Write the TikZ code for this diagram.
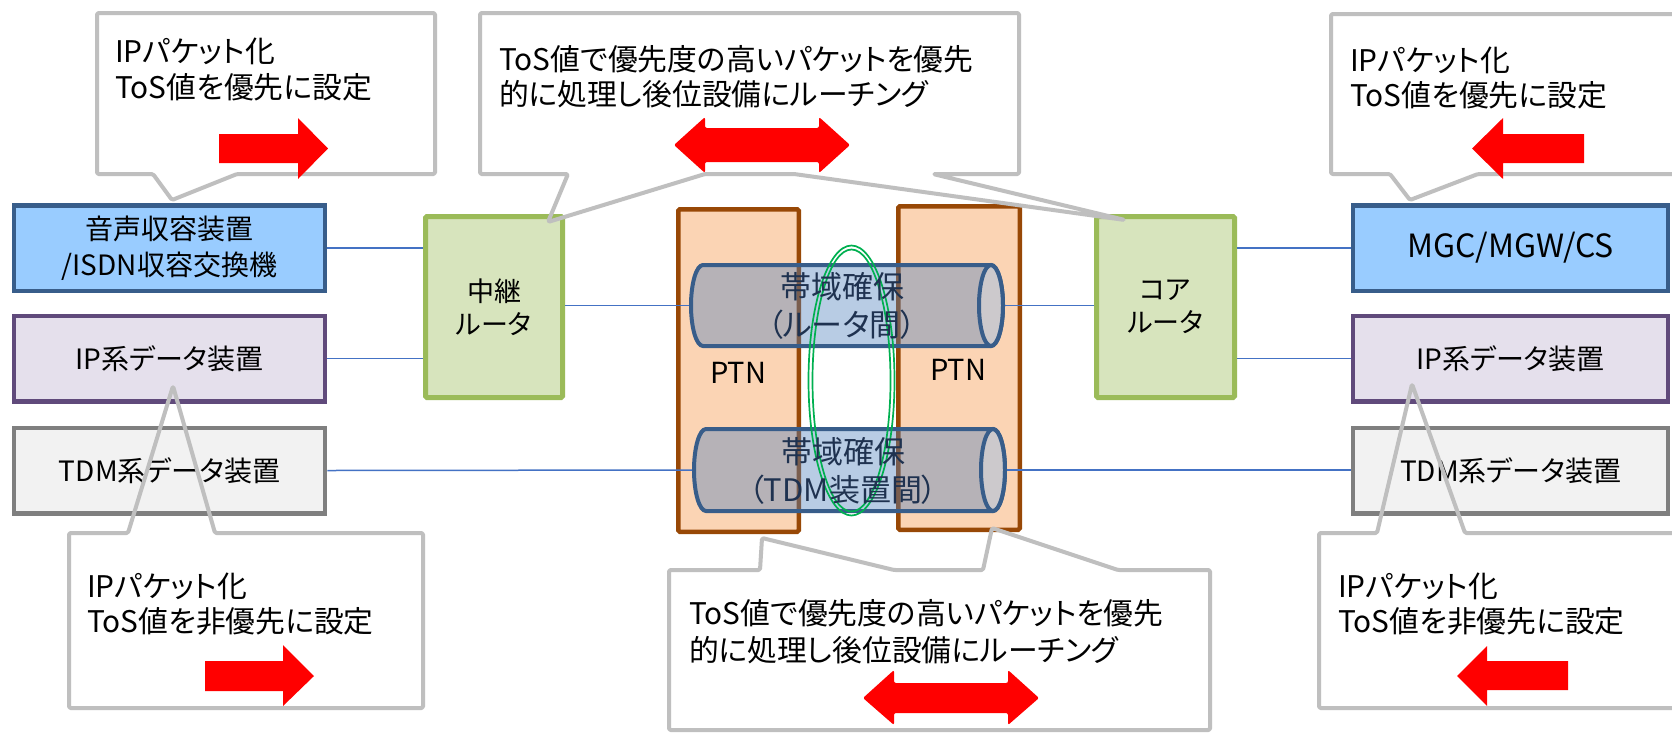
\documentclass[tikz,border=0pt]{standalone}
\usepackage{fontspec}
\setmainfont{Noto Sans CJK JP}[RawFeature=+palt]
\definecolor{vbfill}{RGB}{153,204,255}
\definecolor{vbdraw}{RGB}{56,93,138}
\definecolor{ipfill}{RGB}{229,224,236}
\definecolor{ipdraw}{RGB}{96,74,123}
\definecolor{tdmfill}{RGB}{242,242,242}
\definecolor{tdmdraw}{RGB}{127,127,127}
\definecolor{rtfill}{RGB}{215,228,189}
\definecolor{rtdraw}{RGB}{155,187,89}
\definecolor{ptnfill}{RGB}{251,212,180}
\definecolor{ptndraw}{RGB}{152,72,6}
\definecolor{cylfill}{RGB}{79,129,189}
\definecolor{cyltext}{RGB}{31,50,80}
\definecolor{ringgreen}{RGB}{0,176,80}
\definecolor{calgray}{RGB}{191,191,191}
\definecolor{arrowred}{RGB}{255,0,0}
\definecolor{lineblue}{RGB}{68,114,196}
\newcommand\mycalfont{\fontsize{29.8}{34}\selectfont}
\newcommand\myboxfont{\fontsize{28}{36}\selectfont}
\newcommand\myrtfont{\fontsize{27}{33}\selectfont}
\newcommand\mycylfont{\fontsize{31}{38.5}\selectfont}
\begin{document}
\begin{tikzpicture}[x=1pt,y=-1pt,
  devbox/.style={rectangle, line width=4.5pt, inner sep=0pt, minimum width=311pt, minimum height=85.5pt, align=center, font=\myboxfont, text=black},
  vbbox/.style={devbox, fill=vbfill, draw=vbdraw},
  ipbox/.style={devbox, fill=ipfill, draw=ipdraw},
  tdmbox/.style={devbox, fill=tdmfill, draw=tdmdraw},
  rtbox/.style={rectangle, line width=5pt, inner sep=0pt, minimum width=137pt, minimum height=181pt, fill=rtfill, draw=rtdraw, rounded corners=1.5pt, align=center, font=\myrtfont},
  ptnbox/.style={rectangle, line width=4.5pt, inner sep=0pt, minimum width=120.5pt, minimum height=322.5pt, fill=ptnfill, draw=ptndraw, rounded corners=1.5pt},
  ptnlabel/.style={inner sep=0pt, font=\fontsize{29}{30}\selectfont},
  cylbody/.style={draw=vbdraw, line width=4pt, fill=cylfill, fill opacity=0.4},
  cylend/.style={draw=vbdraw, line width=4pt, fill=white, fill opacity=0.3},
  cyllabel/.style={inner sep=0pt, align=center, text=cyltext, font=\mycylfont},
  ring/.style={draw=ringgreen, line width=1.7pt},
  conn/.style={draw=lineblue, line width=1.5pt},
  callout/.style={draw=calgray, line width=4pt, rounded corners=1.5pt, line join=round},
  caltext/.style={inner sep=0pt, anchor=base west, font=\mycalfont},
  redarrow/.style={fill=arrowred, draw=none},
  redarrow2/.style={fill=arrowred, draw=none, rounded corners=2pt}
]
\clip (0,0) rectangle (1672,732);
\fill[white] (0,0) rectangle (1672,732);

% ---- PTN boxes
\node[ptnbox] (ptnL) at (738.5,370.5) {};
\node[ptnbox, minimum width=121.5pt, minimum height=323.5pt] (ptnR) at (959,368) {};
\node[ptnlabel] (ptnLt) at (738,373) {PTN};
\node[ptnlabel] (ptnRt) at (958,370) {PTN};

% ---- cylinders
\draw[cylbody] (703,265) -- (991,265) arc[start angle=-90,end angle=90,x radius=12,y radius=40.5] -- (703,346) arc[start angle=90,end angle=270,x radius=12,y radius=40.5] -- cycle;
\draw[cylend] (991,305.5) ellipse[x radius=12, y radius=40.5];
\draw[cylbody] (706,429) -- (993,429) arc[start angle=-90,end angle=90,x radius=12,y radius=41] -- (706,511) arc[start angle=90,end angle=270,x radius=12,y radius=41] -- cycle;
\draw[cylend] (993,470) ellipse[x radius=12, y radius=41];
\coordinate (cylUa) at (689,305.5);
\coordinate (cylUb) at (1005,305.5);
\coordinate (cylDa) at (692,470);
\coordinate (cylDb) at (1007,470);

% ---- green ring
\draw[ring] (851.5,380.5) ellipse[x radius=43, y radius=135];
\draw[ring] (851.5,380.5) ellipse[x radius=39, y radius=131];

\node[cyllabel] (cylUt) at (842,306) {帯域確保\\（ルータ間）};
\node[cyllabel] (cylDt) at (843,471) {帯域確保\\（TDM装置間）};

% ---- device boxes
\node[vbbox] (vb) at (169.5,248) {音声収容装置\\/ISDN収容交換機};
\node[ipbox] (ipL) at (169.5,358.5) {IP系データ装置};
\node[tdmbox] (tdmL) at (169.5,470.5) {TDM系データ装置};
\node[vbbox, minimum width=315pt, font=\fontsize{32}{36}\selectfont] (mgc) at (1510.5,248) {MGC/MGW/CS};
\node[ipbox, minimum width=315pt] (ipR) at (1510.5,358.5) {IP系データ装置};
\node[tdmbox, minimum width=315pt] (tdmR) at (1510.5,470.5) {TDM系データ装置};

% ---- routers
\node[rtbox] (rtL) at (494,307) {中継\\ルータ};
\node[rtbox, minimum width=138pt] (rtR) at (1165.5,307) {コア\\ルータ};

% ---- connectors
\draw[conn] (vb.east) -- (vb.east -| rtL.west);
\draw[conn] (ipL.east) -- (ipL.east -| rtL.west);
\draw[conn] (rtL.east |- cylUa) -- (cylUa);
\draw[conn] (cylUb) -- (cylUb -| rtR.west);
\draw[conn] (tdmL.east) -- (cylDa);
\draw[conn] (cylDb) -- (cylDb -| tdmR.west);
\draw[conn] (rtR.east |- mgc.west) -- (mgc.west);
\draw[conn] (rtR.east |- ipR.west) -- (ipR.west);

% ---- callouts
% top left
\draw[callout] (97,13) -- (435,13) -- (435,174) -- (237,174) -- (172,200) -- (153,174) -- (97,174) -- cycle;
\node[caltext] (tl1) at (115,62) {IPパケット化};
\node[caltext] (tl2) at (115,98) {ToS値を優先に設定};
\fill[redarrow] (219,134) -- (298,134) -- (298,118) -- (328,148.5) -- (298,179) -- (298,163) -- (219,163) -- cycle;

% top middle
\draw[callout] (480,13) -- (1019,13) -- (1019,174) -- (933,174) -- (1125,220) -- (794,174) -- (705,174) -- (548,222) -- (568,174) -- (480,174) -- cycle;
\node[caltext] (tm1) at (499,70) {ToS値で優先度の高いパケットを優先};
\node[caltext] (tm2) at (499,105) {的に処理し後位設備にルーチング};
\fill[redarrow2] (674,145) -- (705,117) -- (705,128) -- (819,128) -- (819,117) -- (850,145) -- (819,173) -- (819,162) -- (705,162) -- (705,173) -- cycle;

% top right
\draw[callout] (1690,14) -- (1331,14) -- (1331,174) -- (1390,174) -- (1410,200) -- (1478,174) -- (1690,174);
\node[caltext] (tr1) at (1350,71) {IPパケット化};
\node[caltext] (tr2) at (1350,106) {ToS値を優先に設定};
\fill[redarrow] (1584,134) -- (1503,134) -- (1503,118) -- (1472,148.5) -- (1503,179) -- (1503,163) -- (1584,163) -- cycle;

% bottom left
\draw[callout] (69,533) -- (128,533) -- (173,386) -- (215,533) -- (423,533) -- (423,708) -- (69,708) -- cycle;
\node[caltext] (bl1) at (87,597) {IPパケット化};
\node[caltext] (bl2) at (87,632) {ToS値を非優先に設定};
\fill[redarrow] (205,661) -- (283,661) -- (283,645) -- (314,676) -- (283,706) -- (283,691) -- (205,691) -- cycle;

% bottom middle
\draw[callout] (669,570) -- (760,570) -- (762,538) -- (894,570) -- (983,570) -- (992,528) -- (1118,570) -- (1210,570) -- (1210,730) -- (669,730) -- cycle;
\node[caltext] (bm1) at (689,624) {ToS値で優先度の高いパケットを優先};
\node[caltext] (bm2) at (689,661) {的に処理し後位設備にルーチング};
\fill[redarrow2] (863,698) -- (894,670) -- (894,683) -- (1008,683) -- (1008,670) -- (1039,698) -- (1008,725) -- (1008,713) -- (894,713) -- (894,725) -- cycle;

% bottom right
\draw[callout] (1690,533) -- (1465,533) -- (1412,384) -- (1377,533) -- (1319,533) -- (1319,708) -- (1690,708);
\node[caltext] (br1) at (1338,597) {IPパケット化};
\node[caltext] (br2) at (1338,632) {ToS値を非優先に設定};
\fill[redarrow] (1568,661) -- (1487,661) -- (1487,646) -- (1457,676) -- (1487,706) -- (1487,690) -- (1568,690) -- cycle;
\end{tikzpicture}
\end{document}
